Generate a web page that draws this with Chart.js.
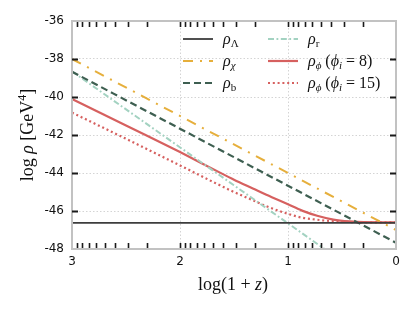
<!DOCTYPE html>
<html>
<head>
<meta charset="utf-8">
<script src="https://cdn.jsdelivr.net/npm/chart.js@4.4.1/dist/chart.umd.min.js"></script>
<style>
  html, body { margin: 0; padding: 0; background: #fff; }
</style>
</head>
<body>
<canvas id="rhoChart" width="415" height="312"></canvas>
<script>
// values, x = log(1+z)
const xLine = [3, 0];
const rhoLambda = [-46.63, -46.63];
const rhoChi = [-38.0, -47.0];
const rhoB = [-38.67, -47.67];
const rhoR = [-38.65, -50.65];

const xPhi = [3, 2.5, 2.0, 1.63, 1.5, 1.32, 1.2, 1.0, 0.87, 0.73, 0.58, 0.43, 0.3, 0];
const rhoPhi8 = [-40.1, -41.5, -42.9, -43.98, -44.35, -44.83, -45.15, -45.65, -45.98, -46.25, -46.45, -46.55, -46.59, -46.6];
const rhoPhi15 = [-40.82, -42.2, -43.6, -44.65, -45.0, -45.45, -45.75, -46.15, -46.35, -46.46, -46.54, -46.58, -46.6, -46.6];

const yTicks = [-36, -38, -40, -42, -44, -46, -48];
const xTicks = [3, 2, 1, 0];
const minorK = [1, 2, 3, 4, 5, 6, 7, 8, 9];

const SERIF = '"Liberation Serif", "DejaVu Serif", serif';
const SANS = '"DejaVu Sans", sans-serif';

const pts = (xs, ys) => xs.map((x, i) => ({ x: x, y: ys[i] }));

const series = [
  { key: 'L', data: pts(xLine, rhoLambda), color: '#3d3d3d', width: 1.8, dash: [] },
  { key: 'chi', data: pts(xLine, rhoChi), color: '#e6af3c', width: 2, dash: [10, 7, 2, 7] },
  { key: 'b', data: pts(xLine, rhoB), color: '#3e5f51', width: 2.2, dash: [7, 4] },
  { key: 'r', data: pts(xLine, rhoR), color: '#a3d2c1', width: 2, dash: [6, 2.5, 1.8, 2.5] },
  { key: 'p8', data: pts(xPhi, rhoPhi8), color: '#d6605f', width: 2.2, dash: [] },
  { key: 'p15', data: pts(xPhi, rhoPhi15), color: '#d6605f', width: 2.2, dash: [2, 2.8] }
];

function drawRuns(ctx, x, y, runs) {
  runs.forEach(r => {
    ctx.font = r.f;
    ctx.fillText(r.t, x, y + (r.dy || 0));
    x += ctx.measureText(r.t).width;
  });
  return x;
}
function runsWidth(ctx, runs) {
  let w = 0;
  runs.forEach(r => { ctx.font = r.f; w += ctx.measureText(r.t).width; });
  return w;
}

const I16 = 'italic 16px ' + SERIF, R16 = '16px ' + SERIF;
const I11 = 'italic 11px ' + SERIF, R11 = '11px ' + SERIF;
const I18 = 'italic 18px ' + SERIF, R18 = '18px ' + SERIF, R12 = '12px ' + SERIF;

const legendItems = [
  { s: 0, col: 0, row: 0, runs: [{ t: 'ρ', f: I16 }, { t: 'Λ', f: R11, dy: 3 }] },
  { s: 1, col: 0, row: 1, runs: [{ t: 'ρ', f: I16 }, { t: 'χ', f: I11, dy: 3 }] },
  { s: 2, col: 0, row: 2, runs: [{ t: 'ρ', f: I16 }, { t: 'b', f: R11, dy: 3 }] },
  { s: 3, col: 1, row: 0, runs: [{ t: 'ρ', f: I16 }, { t: 'r', f: R11, dy: 3 }] },
  { s: 4, col: 1, row: 1, runs: [{ t: 'ρ', f: I16 }, { t: 'ϕ', f: I11, dy: 3 }, { t: ' (', f: R16 },
      { t: 'ϕ', f: I16 }, { t: 'i', f: I11, dy: 3 }, { t: ' = 8)', f: R16 }] },
  { s: 5, col: 1, row: 2, runs: [{ t: 'ρ', f: I16 }, { t: 'ϕ', f: I11, dy: 3 }, { t: ' (', f: R16 },
      { t: 'ϕ', f: I16 }, { t: 'i', f: I11, dy: 3 }, { t: ' = 15)', f: R16 }] }
];

const decor = {
  id: 'decor',
  afterDatasetsDraw(chart) {
    const { ctx, chartArea: a, scales: { x, y } } = chart;
    ctx.save();
    // frame
    ctx.strokeStyle = '#c2c2c2';
    ctx.lineWidth = 2;
    ctx.strokeRect(a.left, a.top, a.right - a.left, a.bottom - a.top);

    // inward ticks
    ctx.strokeStyle = '#1a1a1a';
    ctx.lineWidth = 1.8;
    ctx.beginPath();
    yTicks.slice(1, -1).forEach(v => {
      const py = Math.round(y.getPixelForValue(v)) + 0.5;
      ctx.moveTo(a.left, py); ctx.lineTo(a.left + 6, py);
      ctx.moveTo(a.right, py); ctx.lineTo(a.right - 6, py);
    });
    ctx.stroke();
    ctx.lineWidth = 1.6;
    ctx.beginPath();
    for (let n = 0; n < 3; n++) {
      minorK.forEach(k => {
        const v = n + Math.log10(k);
        if (v <= 0 || v >= 3) return;
        const px = Math.round(x.getPixelForValue(v)) + 0.5;
        ctx.moveTo(px, a.bottom - 1); ctx.lineTo(px, a.bottom - 6);
        ctx.moveTo(px, a.top + 1); ctx.lineTo(px, a.top + 6);
      });
    }
    ctx.stroke();
    ctx.restore();
  },
  afterDraw(chart) {
    const ctx = chart.ctx;
    ctx.save();
    ctx.fillStyle = '#111';
    ctx.textBaseline = 'alphabetic';

    // legend
    const colX = [183, 268], rowY = [39, 61, 83];
    legendItems.forEach(it => {
      const s = series[it.s];
      const lx = colX[it.col], ly = rowY[it.row];
      ctx.strokeStyle = s.color;
      ctx.lineWidth = s.width;
      ctx.setLineDash(s.dash);
      ctx.beginPath();
      ctx.moveTo(lx, ly); ctx.lineTo(lx + 30, ly);
      ctx.stroke();
      ctx.setLineDash([]);
      drawRuns(ctx, lx + 40, ly + 5, it.runs);
    });

    // x title
    const xt = [{ t: 'log(1 + ', f: R18 }, { t: 'z', f: I18 }, { t: ')', f: R18 }];
    drawRuns(ctx, 233 - runsWidth(ctx, xt) / 2, 290, xt);

    // y title
    const yt = [{ t: 'log ', f: R18 }, { t: 'ρ', f: I18 }, { t: ' [GeV', f: R18 }, { t: '4', f: R12, dy: -7 }, { t: ']', f: R18 }];
    ctx.translate(33, 135);
    ctx.rotate(-Math.PI / 2);
    drawRuns(ctx, -runsWidth(ctx, yt) / 2, 0, yt);
    ctx.restore();
  }
};

new Chart(document.getElementById('rhoChart'), {
  type: 'line',
  data: {
    datasets: series.map(s => ({
      data: s.data,
      borderColor: s.color,
      borderWidth: s.width,
      borderDash: s.dash,
      pointRadius: 0,
      fill: false,
      cubicInterpolationMode: 'monotone'
    }))
  },
  options: {
    responsive: false,
    animation: false,
    devicePixelRatio: 1,
    layout: { padding: { left: 0, right: 19, top: 21, bottom: 0 } },
    plugins: { legend: { display: false }, tooltip: { enabled: false } },
    scales: {
      x: {
        type: 'linear',
        min: 0, max: 3,
        reverse: true,
        afterFit: s => { s.height = 63; },
        afterBuildTicks: s => { s.ticks = xTicks.map(v => ({ value: v })); },
        ticks: { font: { family: SANS, size: 12 }, color: '#111', padding: 6 },
        grid: { color: '#d4d4d4', lineWidth: 1, drawTicks: false },
        border: { display: false, dash: [1.5, 2] }
      },
      y: {
        min: -48, max: -36,
        afterFit: s => { s.width = 72; },
        afterBuildTicks: s => { s.ticks = yTicks.map(v => ({ value: v })); },
        ticks: { font: { family: SANS, size: 12 }, color: '#111', padding: 8 },
        grid: { color: '#d4d4d4', lineWidth: 1, drawTicks: false },
        border: { display: false, dash: [1.5, 2] }
      }
    }
  },
  plugins: [decor]
});
</script>
</body>
</html>
